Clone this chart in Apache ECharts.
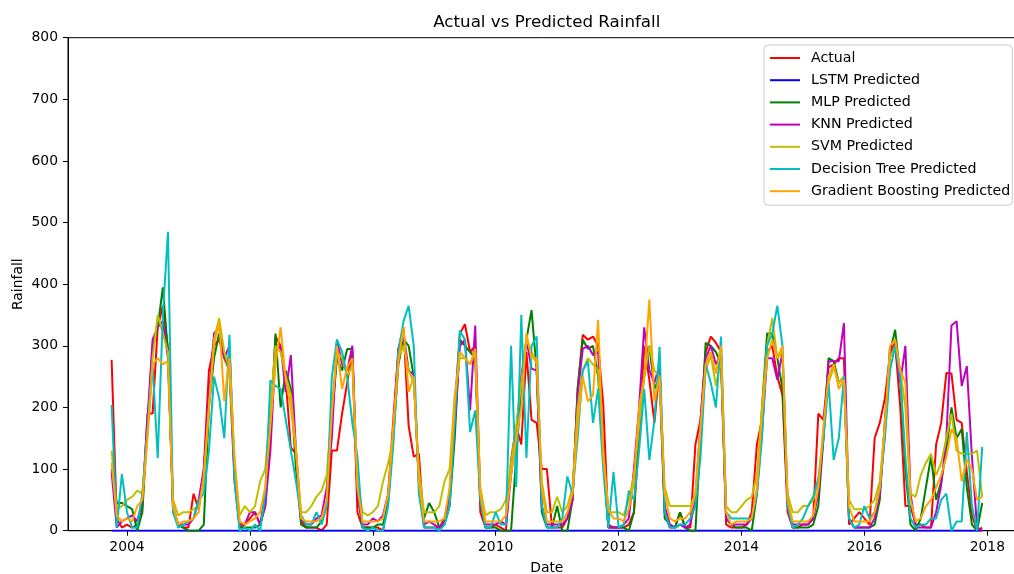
<!DOCTYPE html>
<html><head><meta charset="utf-8">
<script src="https://cdn.jsdelivr.net/npm/echarts@6/dist/echarts.min.js"></script>
<style>html,body{margin:0;padding:0;background:#fff}#c{width:1014px;height:574px}</style>
</head><body><div id="c"></div>
<script>
// Monthly series: Oct 2003 .. Dec 2017 (171 months)
const startYear = 2003, startMonth = 10, monthCount = 171;
const dates = [];
for (let k = 0; k < monthCount; k++) {
  const mm = startMonth - 1 + k;
  dates.push(startYear + Math.floor(mm / 12) + (mm % 12) / 12);
}

const xTicks = [2004, 2006, 2008, 2010, 2012, 2014, 2016, 2018];
const yTicks = [0, 100, 200, 300, 400, 500, 600, 700, 800];

const seriesNames = ['Actual', 'LSTM Predicted', 'MLP Predicted', 'KNN Predicted',
  'SVM Predicted', 'Decision Tree Predicted', 'Gradient Boosting Predicted'];

const actual = [
  277, 20, 5,
  10, 5, 10, 40, 190, 190, 330, 365, 295, 35, 10, 5,
  5, 60, 35, 100, 260, 300, 310, 280, 260, 80, 5, 10,
  20, 30, 10, 60, 150, 315, 300, 245, 135, 125, 15, 5,
  5, 5, 0, 10, 130, 130, 190, 240, 290, 30, 5, 5,
  5, 5, 0, 60, 180, 295, 330, 170, 120, 125, 5, 5,
  5, 5, 20, 60, 200, 320, 335, 290, 300, 30, 5, 5,
  10, 5, 0, 115, 170, 140, 290, 180, 175, 100, 100, 5,
  5, 5, 20, 50, 230, 318, 310, 315, 300, 205, 10, 5,
  5, 5, 10, 30, 150, 300, 245, 175, 265, 30, 5, 5,
  30, 5, 5, 140, 180, 290, 315, 305, 290, 10, 5, 5,
  5, 10, 30, 140, 180, 290, 300, 250, 220, 30, 5, 5,
  10, 10, 20, 190, 180, 265, 270, 280, 280, 10, 20, 30,
  20, 10, 150, 175, 215, 285, 305, 200, 40, 40, 10, 10,
  5, 5, 140, 175, 256, 255, 180, 175, 95, 25, 0, 5
];
const lstm = [
  0, 0, 0,
  0, 0, 0, 0, 0, 0, 0, 0, 0, 0, 0, 0,
  0, 0, 0, 0, 0, 0, 0, 0, 0, 0, 0, 0,
  0, 0, 0, 0, 0, 0, 0, 0, 0, 0, 0, 0,
  0, 0, 0, 0, 0, 0, 0, 0, 0, 0, 0, 0,
  0, 0, 0, 0, 0, 0, 0, 0, 0, 0, 0, 0,
  0, 0, 0, 0, 0, 0, 0, 0, 0, 0, 0, 0,
  0, 0, 0, 0, 0, 0, 0, 0, 0, 0, 0, 0,
  0, 0, 0, 0, 0, 0, 0, 0, 0, 0, 0, 0,
  0, 0, 0, 0, 0, 0, 0, 0, 0, 0, 0, 0,
  0, 0, 0, 0, 0, 0, 0, 0, 0, 0, 0, 0,
  0, 0, 0, 0, 0, 0, 0, 0, 0, 0, 0, 0,
  0, 0, 0, 0, 0, 0, 0, 0, 0, 0, 0, 0,
  0, 0, 0, 0, 0, 0, 0, 0, 0, 0, 0, 0,
  0, 0, 0, 0, 0, 0, 0, 0, 0, 0, 0, 0
];
const mlp = [
  100, 45, 45,
  40, 35, 0, 30, 170, 300, 330, 395, 290, 30, 10, 5,
  0, 0, 0, 10, 200, 280, 320, 285, 270, 100, 5, 5,
  5, 5, 10, 40, 160, 320, 200, 260, 230, 100, 10, 5,
  5, 5, 15, 40, 180, 280, 260, 295, 295, 60, 5, 5,
  5, 10, 10, 50, 150, 270, 310, 300, 250, 80, 20, 45,
  30, 5, 10, 40, 150, 310, 300, 290, 280, 50, 5, 5,
  5, 0, 0, 0, 120, 230, 310, 358, 260, 30, 5, 5,
  40, 0, 0, 50, 230, 310, 295, 300, 250, 120, 5, 5,
  5, 5, 0, 30, 180, 250, 300, 230, 250, 20, 10, 5,
  30, 5, 0, 0, 150, 305, 300, 290, 270, 20, 10, 5,
  5, 5, 0, 60, 200, 320, 320, 280, 230, 50, 5, 5,
  5, 5, 10, 40, 150, 280, 275, 240, 250, 20, 5, 5,
  5, 5, 10, 50, 180, 290, 326, 250, 100, 10, 0, 20,
  70, 120, 50, 80, 130, 200, 150, 165, 70, 10, 0, 45
];
const knn = [
  95, 5, 15,
  20, 25, 15, 50, 180, 310, 330, 340, 280, 40, 10, 10,
  10, 20, 50, 100, 220, 320, 330, 280, 300, 90, 10, 10,
  30, 30, 10, 40, 130, 290, 300, 225, 285, 130, 20, 10,
  10, 20, 25, 70, 150, 310, 270, 260, 300, 60, 10, 10,
  20, 15, 25, 60, 160, 295, 320, 260, 253, 80, 10, 15,
  10, 5, 15, 60, 170, 300, 310, 195, 333, 50, 10, 10,
  10, 15, 10, 90, 160, 250, 310, 263, 260, 40, 10, 10,
  10, 10, 20, 50, 220, 295, 300, 285, 290, 130, 5, 5,
  5, 10, 20, 100, 200, 330, 260, 240, 270, 40, 10, 5,
  10, 5, 10, 50, 180, 280, 300, 270, 285, 20, 10, 10,
  10, 10, 20, 60, 160, 280, 280, 245, 290, 40, 10, 10,
  10, 10, 20, 60, 150, 275, 275, 275, 337, 20, 5, 5,
  5, 5, 20, 60, 160, 300, 295, 240, 300, 60, 5, 5,
  5, 5, 30, 75, 150, 333, 340, 235, 267, 120, 5, 0
];
const svm = [
  130, 35, 40,
  50, 55, 65, 60, 160, 280, 350, 320, 290, 50, 25, 30,
  30, 35, 40, 80, 200, 310, 345, 290, 260, 110, 25, 40,
  30, 40, 80, 100, 200, 300, 290, 250, 220, 130, 30, 30,
  40, 55, 65, 90, 200, 290, 280, 250, 270, 80, 30, 25,
  30, 40, 80, 110, 150, 280, 300, 260, 240, 100, 30, 30,
  30, 40, 80, 100, 220, 280, 280, 270, 290, 70, 25, 30,
  30, 35, 50, 110, 170, 240, 310, 290, 270, 80, 30, 30,
  55, 30, 40, 70, 200, 260, 280, 270, 260, 130, 30, 30,
  30, 25, 50, 90, 170, 250, 300, 260, 250, 70, 40, 40,
  40, 40, 40, 60, 160, 260, 285, 235, 280, 40, 30, 30,
  40, 50, 55, 90, 200, 300, 345, 280, 290, 60, 30, 30,
  40, 40, 50, 80, 160, 240, 265, 240, 250, 50, 35, 35,
  35, 40, 50, 80, 170, 280, 300, 260, 200, 60, 55, 90,
  110, 125, 90, 110, 150, 190, 130, 125, 125, 125, 130, 55
];
const dtree = [
  204, 5, 92,
  30, 5, 5, 60, 160, 270, 118, 350, 485, 30, 5, 10,
  15, 20, 50, 60, 130, 250, 215, 150, 318, 80, 0, 5,
  0, 10, 0, 60, 244, 235, 230, 180, 130, 80, 25, 10,
  10, 30, 10, 40, 250, 310, 290, 250, 175, 120, 5, 0,
  5, 0, 0, 40, 140, 290, 340, 365, 300, 60, 5, 5,
  5, 0, 10, 40, 180, 325, 310, 160, 195, 50, 5, 5,
  30, 10, 10, 300, 71, 350, 118, 300, 315, 40, 5, 5,
  5, 20, 88, 60, 150, 260, 275, 175, 230, 100, 5, 95,
  5, 10, 65, 50, 130, 230, 115, 180, 298, 30, 5, 5,
  10, 10, 20, 40, 120, 270, 240, 200, 315, 30, 20, 20,
  20, 20, 20, 60, 150, 300, 320, 365, 300, 40, 5, 10,
  20, 40, 55, 85, 150, 240, 115, 150, 250, 20, 5, 10,
  40, 20, 30, 70, 150, 260, 300, 250, 120, 20, 5, 10,
  10, 20, 20, 50, 60, 0, 15, 15, 160, 40, 0, 136
];
const gboost = [
  110, 25, 15,
  20, 15, 40, 50, 150, 270, 280, 270, 275, 40, 10, 15,
  15, 20, 30, 90, 200, 300, 340, 210, 280, 120, 15, 10,
  15, 20, 30, 70, 170, 270, 330, 245, 200, 130, 20, 15,
  15, 15, 20, 50, 190, 300, 230, 265, 280, 70, 15, 15,
  15, 15, 20, 60, 170, 275, 330, 225, 250, 80, 15, 15,
  15, 15, 20, 70, 210, 290, 280, 270, 295, 60, 15, 15,
  15, 15, 25, 90, 150, 200, 320, 280, 280, 70, 15, 15,
  15, 15, 30, 60, 170, 250, 210, 220, 342, 120, 35, 20,
  20, 15, 35, 80, 200, 250, 375, 210, 250, 60, 20, 15,
  20, 20, 30, 60, 170, 270, 290, 255, 300, 30, 10, 15,
  15, 15, 20, 70, 190, 280, 310, 280, 300, 50, 15, 15,
  15, 15, 25, 70, 170, 250, 270, 230, 245, 40, 15, 15,
  15, 15, 30, 70, 170, 300, 310, 260, 240, 50, 15, 20,
  40, 50, 70, 90, 120, 165, 150, 80, 115, 100, 50, 55
];

const seriesValues = [actual, lstm, mlp, knn, svm, dtree, gboost];
const seriesColors = ['#ff0000', '#0000ff', '#008000', '#bf00bf', '#bfbf00', '#00bfbf', '#ffa500'];

const FONT = '"DejaVu Sans", "Liberation Sans", sans-serif';
const chart = echarts.init(document.getElementById('c'), null, {renderer: 'canvas'});

const series = seriesNames.map((name, s) => ({
  type: 'line',
  name: name,
  data: dates.map((d, i) => [d, seriesValues[s][i]]),
  symbol: 'none',
  showSymbol: false,
  color: seriesColors[s],
  lineStyle: {width: 2, color: seriesColors[s]},
  itemStyle: {color: seriesColors[s]},
  emphasis: {disabled: true},
  animation: false,
  clip: true
}));

chart.setOption({
  animation: false,
  backgroundColor: '#ffffff',
  grid: {left: 68, top: 37.7, right: -11.6, bottom: 43.3, show: true,
         borderColor: '#000', borderWidth: 1, backgroundColor: 'transparent',
         containLabel: false, outerBoundsMode: 'none'},
  graphic: [{
    type: 'text', x: 546.8, y: 22.5, z: 100,
    style: {text: 'Actual vs Predicted Rainfall', fontFamily: FONT, fontSize: 16.7,
            fill: '#000', align: 'center', verticalAlign: 'middle'}
  }],
  legend: {
    orient: 'vertical', left: 764, top: 45,
    itemWidth: 30, itemHeight: 2, itemGap: 6.2, icon: 'rect',
    padding: [5, 2, 6, 6],
    backgroundColor: 'rgba(255,255,255,0.8)', borderColor: '#cccccc', borderWidth: 1, borderRadius: 4,
    textStyle: {fontFamily: FONT, fontSize: 14.2, color: '#000', lineHeight: 16, padding: [0, 0, 0, 6]},
    selectedMode: false,
    data: seriesNames
  },
  xAxis: {
    type: 'value', min: 2003.04, max: 2018.623,
    axisLine: {show: true, onZero: false, lineStyle: {color: '#000', width: 1}},
    axisTick: {show: true, length: 5, lineStyle: {color: '#000', width: 1}, customValues: xTicks},
    axisLabel: {customValues: xTicks, margin: 10, fontSize: 13.9, color: '#000', fontFamily: FONT,
                formatter: v => String(Math.round(v))},
    splitLine: {show: false},
    name: 'Date', nameLocation: 'middle', nameGap: 31, nameMoveOverlap: false,
    nameTextStyle: {fontFamily: FONT, fontSize: 13.9, color: '#000'}
  },
  yAxis: {
    type: 'value', min: yTicks[0], max: yTicks[yTicks.length - 1], interval: 100,
    axisLine: {show: true, onZero: false, lineStyle: {color: '#000', width: 1}},
    axisTick: {show: true, length: 5, lineStyle: {color: '#000', width: 1}},
    axisLabel: {margin: 10, fontSize: 13.9, color: '#000', fontFamily: FONT},
    splitLine: {show: false},
    name: 'Rainfall', nameLocation: 'middle', nameGap: 43, nameMoveOverlap: false,
    nameTextStyle: {fontFamily: FONT, fontSize: 13.9, color: '#000'}
  },
  series: series
});
</script></body></html>
